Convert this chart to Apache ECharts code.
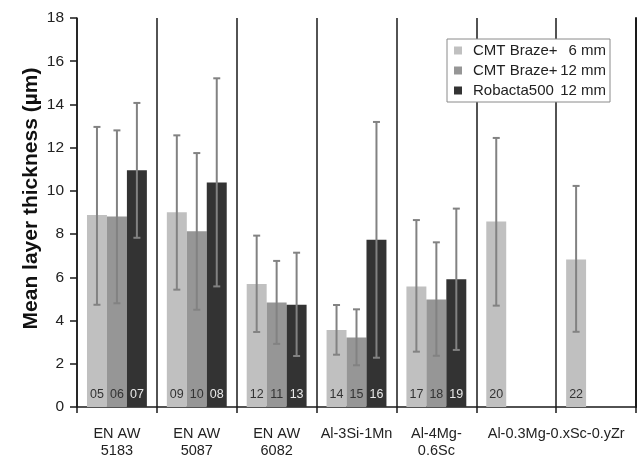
<!DOCTYPE html>
<html>
<head>
<meta charset="utf-8">
<script src="https://cdn.jsdelivr.net/npm/echarts@6/dist/echarts.min.js"></script>
<style>html,body{margin:0;padding:0;background:#fff}#c{width:642px;height:460px}</style>
</head>
<body>
<div id="c"></div>
<script>
var categories = ['EN AW\n5183', 'EN AW\n5087', 'EN AW\n6082', 'Al-3Si-1Mn', 'Al-4Mg-\n0.6Sc', 'Al-0.3Mg-0.xSc-0.yZr', ''];
var yTicks = [0, 2, 4, 6, 8, 10, 12, 14, 16, 18];

var seriesNames = ['CMT Braze+ 6 mm', 'CMT Braze+ 12 mm', 'Robacta500 12 mm'];
var legendTool = ['CMT Braze+', 'CMT Braze+', 'Robacta500'];
var legendSize = ['6 mm', '12 mm', '12 mm'];

var braze6 = [8.88, 9.01, 5.69, 3.56, 5.58, 8.58, 6.83];
var braze6Lo = [4.73, 5.43, 3.47, 2.42, 2.56, 4.69, 3.48];
var braze6Hi = [12.96, 12.57, 7.93, 4.72, 8.65, 12.45, 10.23];
var braze6Ids = ['05', '09', '12', '14', '17', '20', '22'];

var braze12 = [8.82, 8.13, 4.83, 3.22, 4.98, null, null];
var braze12Lo = [4.80, 4.50, 2.92, 1.93, 2.37, null, null];
var braze12Hi = [12.80, 11.75, 6.76, 4.52, 7.62, null, null];
var braze12Ids = ['06', '10', '11', '15', '18', '', ''];

var robacta = [10.95, 10.39, 4.73, 7.74, 5.91, null, null];
var robactaLo = [7.83, 5.58, 2.36, 2.28, 2.64, null, null];
var robactaHi = [14.07, 15.21, 7.14, 13.19, 9.18, null, null];
var robactaIds = ['07', '08', '13', '16', '19', '', ''];

var colors = ['#c0c0c0', '#969696', '#333333'];
var labelColors = ['#333333', '#333333', '#e8e8e8'];

var vals = [braze6, braze12, robacta];
var los = [braze6Lo, braze12Lo, robactaLo];
var his = [braze6Hi, braze12Hi, robactaHi];
var ids = [braze6Ids, braze12Ids, robactaIds];

function errRender(idx) {
  return function (params, api) {
    var cat = api.value(0);
    var lo = api.value(1), hi = api.value(2);
    var band = api.size([1, 0])[0];
    var bw = band * 0.75 / 3;
    var cx = api.coord([cat, 0])[0] + (idx - 1) * bw;
    var yLo = api.coord([cat, lo])[1];
    var yHi = api.coord([cat, hi])[1];
    var st = {stroke: '#828282', lineWidth: 2};
    var cap = 3.5;
    return {
      type: 'group',
      children: [
        {type: 'line', shape: {x1: cx, y1: yLo, x2: cx, y2: yHi}, style: st},
        {type: 'line', shape: {x1: cx - cap, y1: yHi, x2: cx + cap, y2: yHi}, style: st},
        {type: 'line', shape: {x1: cx - cap, y1: yLo, x2: cx + cap, y2: yLo}, style: st}
      ]
    };
  };
}

var series = [];
for (var s = 0; s < 3; s++) {
  (function (s) {
    series.push({
      name: seriesNames[s],
      type: 'bar',
      data: vals[s],
      barGap: '0%',
      barCategoryGap: '25%',
      itemStyle: {color: colors[s]},
      label: {
        show: true,
        position: 'insideBottom',
        distance: 6,
        fontFamily: 'Liberation Sans, Arial',
        fontSize: 12.5,
        color: labelColors[s],
        formatter: function (p) { return ids[s][p.dataIndex]; }
      },
      z: 2
    });
  })(s);
}
for (var s2 = 0; s2 < 3; s2++) {
  var d = [];
  for (var i = 0; i < categories.length; i++) {
    if (vals[s2][i] != null) d.push([i, los[s2][i], his[s2][i]]);
  }
  series.push({
    type: 'custom',
    renderItem: errRender(s2),
    data: d,
    encode: {x: 0, y: [1, 2]},
    z: 5,
    silent: true
  });
}

var chart = echarts.init(document.getElementById('c'), null, {renderer: 'canvas'});
chart.setOption({
  backgroundColor: '#ffffff',
  animation: false,
  textStyle: {fontFamily: 'Liberation Sans, Arial'},
  grid: {left: 77, right: 6, top: 18, bottom: 53},
  legend: {
    data: seriesNames,
    orient: 'vertical',
    left: 447,
    top: 39,
    padding: [4, 4, 4, 7],
    itemGap: 5,
    itemWidth: 8,
    itemHeight: 8,
    icon: 'rect',
    backgroundColor: '#ffffff',
    borderColor: '#8a8a8a',
    borderWidth: 1,
    selectedMode: false,
    textStyle: {
      fontFamily: 'Liberation Sans, Arial',
      fontSize: 15,
      color: '#222',
      rich: {
        g: {width: 6, fontSize: 15},
        a: {width: 86, fontSize: 15, color: '#222', fontFamily: 'Liberation Sans, Arial'},
        b: {width: 47, align: 'right', fontSize: 15, color: '#222', fontFamily: 'Liberation Sans, Arial'}
      }
    },
    formatter: function (name) {
      var k = seriesNames.indexOf(name);
      return '{g| }{a|' + legendTool[k] + '}{b|' + legendSize[k] + '}';
    }
  },
  xAxis: {
    type: 'category',
    data: categories,
    boundaryGap: true,
    axisLine: {show: true, lineStyle: {color: '#1a1a1a', width: 1.5}},
    axisTick: {show: true, interval: 0, length: 6, lineStyle: {color: '#1a1a1a', width: 1.5}},
    splitLine: {show: true, interval: 0, lineStyle: {color: '#1a1a1a', width: 1.5}},
    axisLabel: {
      interval: 0,
      margin: 18,
      fontSize: 14.5,
      lineHeight: 17,
      color: '#222',
      fontFamily: 'Liberation Sans, Arial',
      formatter: function (v, i) {
        if (i === 5) return '{w|' + v + '}';
        return v;
      },
      rich: {
        w: {padding: [0, 0, 0, 80], fontSize: 14.5, color: '#222', fontFamily: 'Liberation Sans, Arial'}
      }
    }
  },
  yAxis: [{
    type: 'value',
    min: 0,
    max: 18,
    interval: 2,
    name: 'Mean layer thickness (µm)',
    nameLocation: 'middle',
    nameGap: 35,
    nameMoveOverlap: false,
    nameTextStyle: {fontSize: 21, fontWeight: 'bold', color: '#111', fontFamily: 'Liberation Sans, Arial', padding: [0, 0, 0, 28]},
    axisLine: {show: true, onZero: false, lineStyle: {color: '#1a1a1a', width: 1.5}},
    axisTick: {show: true, length: 7, lineStyle: {color: '#1a1a1a', width: 1.5}},
    splitLine: {show: false},
    axisLabel: {
      fontSize: 15.5,
      color: '#222',
      margin: 13,
      fontFamily: 'Liberation Sans, Arial',
      formatter: function (v) { return yTicks.indexOf(v) >= 0 ? String(v) : ''; }
    }
  }, {
    type: 'value',
    position: 'right',
    min: 0,
    max: 18,
    interval: 2,
    axisLine: {show: true, onZero: false, lineStyle: {color: '#1a1a1a', width: 2}},
    axisTick: {show: false},
    axisLabel: {show: false},
    splitLine: {show: false}
  }],
  series: series
});
</script>
</body>
</html>
